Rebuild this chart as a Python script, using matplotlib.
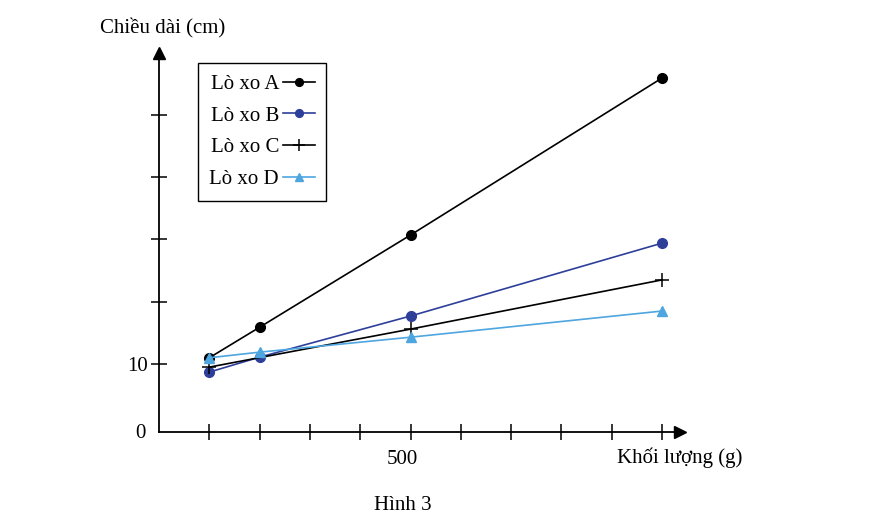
import numpy as np
import matplotlib.pyplot as plt
import matplotlib.transforms as mtrans

plt.rcParams['font.family'] = ['Liberation Serif', 'DejaVu Serif']

# khối lượng (g) va chiều dài (cm) doc tu hinh
x_ABD = [100, 200, 500, 1000]
x_C = [100, 500, 1000]
len_A = [11.0, 15.9, 30.7, 55.9]
len_B = [8.7, 11.1, 17.7, 29.4]
len_C = [9.5, 15.6, 23.5]
len_D = [11.0, 11.9, 14.3, 18.5]

x_ticks = [100, 200, 300, 400, 500, 600, 700, 800, 900, 1000]
x_ticklabels = ["", "", "", "", "500", "", "", "", "", ""]
y_ticks = [10, 20, 30, 40, 50]
y_ticklabels = ["10", "", "", "", ""]

W, H = 887, 521
fig = plt.figure(figsize=(W / 100, H / 100), dpi=100)
ax = fig.add_axes([159 / W, (H - 432) / H, (680 - 159) / W, (432 - 53) / H])

fs = 15
ax.plot(x_ABD, len_A, "-o", color="black", lw=1.2, ms=7, label="Lò xo A")
ax.plot(x_ABD, len_B, "-o", color="#2e3f9a", lw=1.2, ms=7, label="Lò xo B")
ax.plot(x_C, len_C, "-+", color="black", lw=1.2, ms=10, mew=1.1, label="Lò xo C")
ax.plot(x_ABD, len_D, "-^", color="#4ea6e0", lw=1.2, ms=7, label="Lò xo D")

ax.set_xlim(0, (680 - 159) / 50.3 * 100)
ax.set_ylim(10 + (364 - 432) / 6.23, 10 + (364 - 53) / 6.23)

for s in ["top", "right"]:
    ax.spines[s].set_visible(False)
for s in ["left", "bottom"]:
    ax.spines[s].set_linewidth(1.3)

ax.plot(1, 0, ">", color="black", ms=9, transform=ax.transAxes, clip_on=False)
ax.plot(0, 1, "^", color="black", ms=9, transform=ax.transAxes, clip_on=False)

ax.set_xticks(x_ticks)
ax.set_xticklabels(x_ticklabels, fontsize=fs)
ax.set_yticks(y_ticks)
ax.set_yticklabels(y_ticklabels, fontsize=fs)
ax.tick_params(direction="inout", length=12, width=1.1)
ax.tick_params(axis="x", pad=7)
ax.tick_params(axis="y", pad=2)
shift = mtrans.ScaledTranslation(-8 / 100, 0, fig.dpi_scale_trans)
for lab in ax.get_xticklabels():
    lab.set_transform(lab.get_transform() + shift)

fig.text(146 / W, 1 - 433 / H, "0", fontsize=fs, ha="right", va="center")
fig.text(100 / W, 1 - 28 / H, "Chiều dài (cm)", fontsize=fs, ha="left", va="center")
fig.text(617 / W, 1 - 458 / H, "Khối lượng (g)", fontsize=fs, ha="left", va="center")
fig.text(403 / W, 1 - 505 / H, "Hình 3", fontsize=fs, ha="center", va="center")

leg = fig.legend(loc="upper left", bbox_to_anchor=(198 / W, 1 - 63 / H),
                 borderaxespad=0, markerfirst=False, fontsize=fs,
                 fancybox=False, edgecolor="black", framealpha=1,
                 handlelength=1.5, handletextpad=0.2, labelspacing=0.58,
                 borderpad=0.55, markerscale=0.8)
leg.get_frame().set_linewidth(1.0)

fig.savefig("out.png", dpi=100)
